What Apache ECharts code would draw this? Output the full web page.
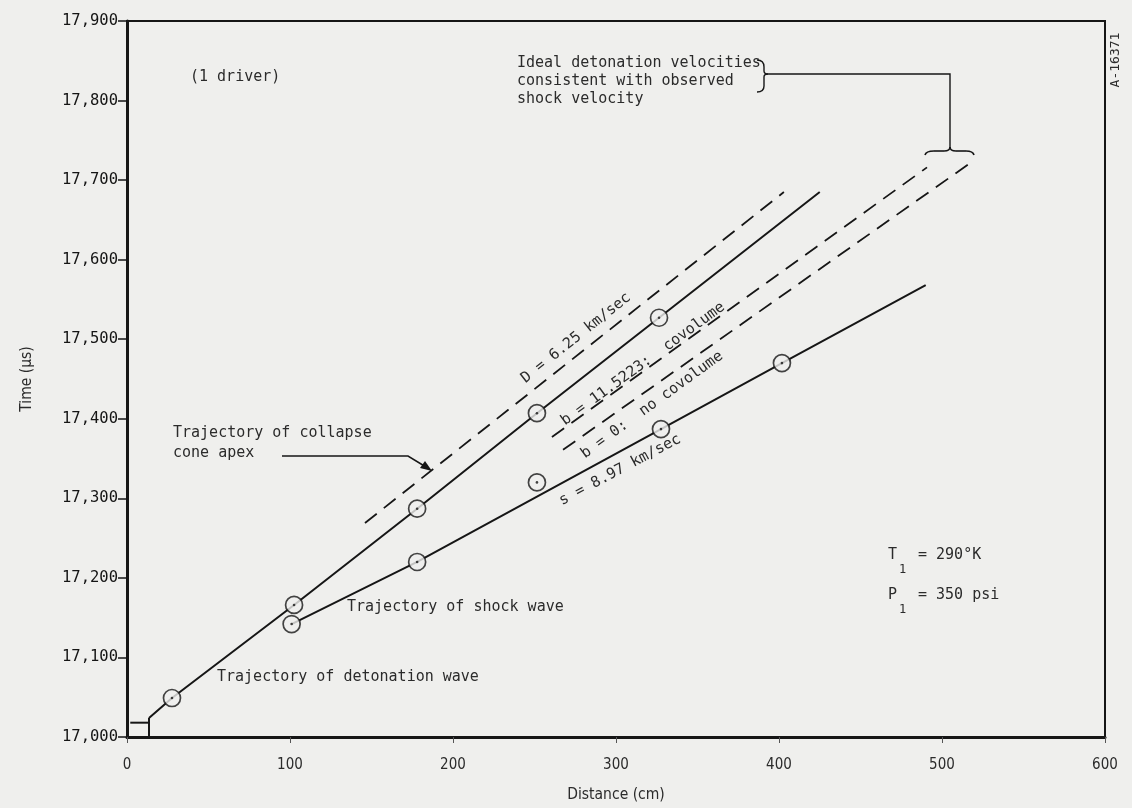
<!DOCTYPE html>
<html><head><meta charset="utf-8">
<script src="https://cdn.jsdelivr.net/npm/echarts@6/dist/echarts.min.js"></script>
<style>html,body{margin:0;padding:0;background:#efefed;}#c{width:1132px;height:808px;}</style>
</head><body><div id="c"></div>
<script>
// ---- data (cm, microseconds) ----
const detonationDist = [13.5, 27.6, 102.5, 178, 251.5, 326.4, 425];
const detonationTime = [17024, 17049, 17166, 17287, 17407, 17527, 17685];
const detonationMarked = [false, true, true, true, true, true, false];
const shockDist = [101, 178, 327.6, 401.8, 490];
const shockTime = [17142, 17220, 17387, 17470, 17568];
const shockMarked = [true, true, true, true, false];
const strayDist = [251.5];
const strayTime = [17320];
const dIdealDist = [146, 403];
const dIdealTime = [17269, 17685];
const bCovDist = [260.7, 490.8];
const bCovTime = [17377, 17716];
const bZeroDist = [267.5, 517];
const bZeroTime = [17361, 17721];
const stepHDist = [2, 13.5];
const stepHTime = [17018, 17018];
const stepVDist = [13.5, 13.5];
const stepVTime = [17000, 17024];
const xTicks = [0, 100, 200, 300, 400, 500, 600];
const yTicks = [17000, 17100, 17200, 17300, 17400, 17500, 17600, 17700, 17800, 17900];

const BG = '#efefed', INK = '#161616', TXT = '#2b2b2b';
const MONO = "'DejaVu Sans Mono', 'Liberation Mono', monospace";
const COND = "'Liberation Sans Narrow', 'DejaVu Sans Condensed', 'Roboto Condensed', sans-serif";

const zip = (a, b) => a.map((v, i) => [v, b[i]]);
const pick = (a, b, m) => zip(a, b).filter((_, i) => m[i]);

const lineS = (name, d, dash) => ({
  type: 'line', name, data: d, symbol: 'none', silent: true, z: 2,
  lineStyle: { color: INK, width: dash ? 1.8 : 2, type: dash ? [15, 9] : 'solid' }
});

const circles = [].concat(pick(detonationDist, detonationTime, detonationMarked),
  pick(shockDist, shockTime, shockMarked), zip(strayDist, strayTime));

const chart = echarts.init(document.getElementById('c'), null, { renderer: 'canvas' });
const tx = (x, y, text, o = {}) => ({
  type: 'text', x, y, rotation: (o.rot || 0) * Math.PI / 180, z: 10,
  style: { x: 0, y: 0, text, fill: o.fill || TXT, font: (o.size || 15) + 'px ' + (o.family || MONO),
    textAlign: o.align || 'left', textVerticalAlign: 'middle' }
});
const stroke = (w) => ({ stroke: INK, fill: null, lineWidth: w || 1.4 });
const bz = (x1, y1, cx, cy, x2, y2, w) => ({ type: 'bezierCurve', z: 10,
  shape: { x1, y1, x2, y2, cpx1: cx, cpy1: cy }, style: stroke(w) });
const ln = (pts, w) => ({ type: 'polyline', z: 10, shape: { points: pts }, style: stroke(w) });

chart.setOption({
  backgroundColor: BG,
  animation: false,
  grid: { left: 127, right: 27, top: 21, bottom: 71, show: true, borderColor: INK, borderWidth: 2 },
  xAxis: {
    type: 'value', min: 0, max: 600, interval: 100,
    axisLine: { show: true, lineStyle: { color: INK, width: 3 } },
    axisTick: { show: true, length: 6, lineStyle: { color: '#555', width: 1 } },
    splitLine: { show: false },
    axisLabel: { color: TXT, fontFamily: COND, fontSize: 15, margin: 21 },
    name: 'Distance (cm)', nameLocation: 'middle', nameGap: 50,
    nameTextStyle: { color: TXT, fontFamily: COND, fontSize: 15.5 }
  },
  yAxis: {
    type: 'value', min: 17000, max: 17900, interval: 100,
    axisLine: { show: true, lineStyle: { color: INK, width: 3 } },
    axisTick: { show: true, length: 9, lineStyle: { color: INK, width: 1.5 } },
    splitLine: { show: false },
    axisLabel: { color: '#151515', fontFamily: MONO, fontSize: 15.5, margin: 9,
      formatter: v => v.toLocaleString('en-US') },
    name: 'Time (\u03bcs)', nameLocation: 'middle', nameGap: 92, nameRotate: 90,
    nameTextStyle: { color: TXT, fontFamily: COND, fontSize: 15.5 }
  },
  series: [
    lineS('detonation', zip(detonationDist, detonationTime)),
    lineS('shock', zip(shockDist, shockTime)),
    lineS('D ideal', zip(dIdealDist, dIdealTime), true),
    lineS('b covolume', zip(bCovDist, bCovTime), true),
    lineS('b zero', zip(bZeroDist, bZeroTime), true),
    lineS('stepH', zip(stepHDist, stepHTime)),
    lineS('stepV', zip(stepVDist, stepVTime)),
    { type: 'scatter', data: circles, symbol: 'circle', symbolSize: 17, z: 4, silent: true,
      itemStyle: { color: BG, borderColor: INK, borderWidth: 1.7 } },
    { type: 'scatter', data: circles, symbol: 'circle', symbolSize: 2.6, z: 5, silent: true,
      itemStyle: { color: INK } }
  ],
  graphic: [
    tx(190, 77, '(1 driver)'),
    tx(517, 63, 'Ideal detonation velocities'),
    tx(517, 81, 'consistent with observed'),
    tx(517, 99, 'shock velocity'),
    bz(757, 60, 764, 60, 764, 67), ln([[764, 67], [764, 71]]), bz(764, 71, 764, 74, 768, 74),
    bz(768, 74, 764, 74, 764, 77), ln([[764, 77], [764, 86]]), bz(764, 86, 764, 92, 757, 92),
    ln([[768, 74], [950, 74], [950, 147]]),
    bz(925, 155, 926, 151, 934, 151, 1.6), ln([[934, 151], [944, 151]], 1.6), bz(944, 151, 950, 151, 950, 147, 1.6),
    bz(950, 147, 950, 151, 956, 151, 1.6), ln([[956, 151], [966, 151]], 1.6), bz(966, 151, 973, 151, 974, 155, 1.6),
    tx(1116, 60, 'A-16371', { rot: 90, size: 13, align: 'center' }),
    tx(173, 433, 'Trajectory of collapse'),
    tx(173, 453, 'cone apex'),
    ln([[282, 456], [408, 456], [426, 467]], 1.5),
    { type: 'polygon', z: 10, shape: { points: [[432, 471], [420, 468], [425, 461]] }, style: { fill: INK } },
    tx(347, 607, 'Trajectory of shock wave'),
    tx(217, 677, 'Trajectory of detonation wave'),
    tx(576, 338, 'D = 6.25 km/sec', { rot: 38.5, align: 'center' }),
    tx(643, 364, 'b = 11.5223:  covolume', { rot: 36, align: 'center' }),
    tx(652, 405, 'b = 0:  no covolume', { rot: 36, align: 'center' }),
    tx(620, 470, 's = 8.97 km/sec', { rot: 28, align: 'center' }),
    tx(888, 555, 'T'),
    tx(899, 570, '1', { size: 12 }),
    tx(918, 555, '= 290\u00b0K'),
    tx(888, 595, 'P'),
    tx(899, 610, '1', { size: 12 }),
    tx(918, 595, '= 350 psi')
  ]
});
</script></body></html>
